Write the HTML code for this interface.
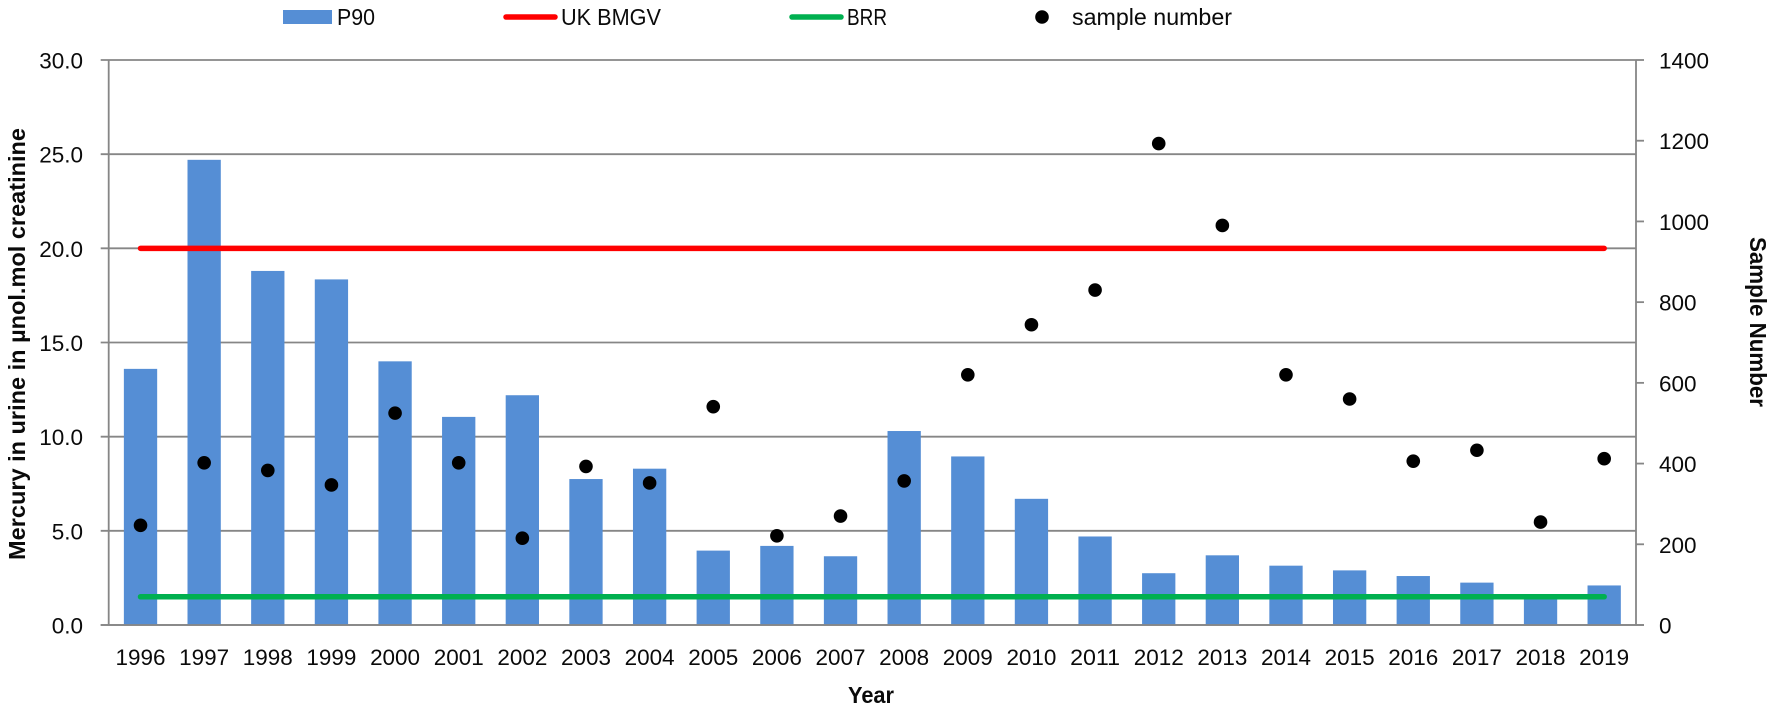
<!DOCTYPE html>
<html lang="en">
<head>
<meta charset="utf-8">
<title>Mercury in urine chart</title>
<style>
html,body{margin:0;padding:0;background:#fff;width:1772px;height:707px;overflow:hidden}
svg{display:block;font-family:"Liberation Sans",sans-serif;fill:#0a0a0a}
</style>
</head>
<body>
<svg id="chart" xmlns="http://www.w3.org/2000/svg" width="1772" height="707" viewBox="0 0 1772 707">
  <g id="grid"></g>
  <g id="bars"></g>
  <g id="axes"></g>
  <g id="lines"></g>
  <g id="dots"></g>
  <g id="ticks"></g>

  <g>
    <g>
      <rect x="283" y="10" width="49" height="14" fill="#558ed5"/>
      <text x="337" y="25" font-size="23" textLength="38" lengthAdjust="spacingAndGlyphs">P90</text>
    </g>
    <g>
      <line x1="506" y1="17" x2="555" y2="17" stroke="#ff0000" stroke-width="5.5" stroke-linecap="round"/>
      <text x="561" y="25" font-size="23" textLength="100" lengthAdjust="spacingAndGlyphs">UK BMGV</text>
    </g>
    <g>
      <line x1="792" y1="17" x2="841" y2="17" stroke="#00b050" stroke-width="5.5" stroke-linecap="round"/>
      <text x="847" y="25" font-size="23" textLength="40" lengthAdjust="spacingAndGlyphs">BRR</text>
    </g>
    <g>
      <circle cx="1042" cy="17" r="6.8" fill="#000"/>
      <text x="1072" y="25" font-size="23" textLength="160" lengthAdjust="spacingAndGlyphs">sample number</text>
    </g>
  </g>

  <text transform="translate(25 344) rotate(-90)" text-anchor="middle" font-size="23" font-weight="bold" textLength="432" lengthAdjust="spacingAndGlyphs">Mercury in urine in µnol.mol creatinine</text>
  <text transform="translate(1750 322) rotate(90)" text-anchor="middle" font-size="23" font-weight="bold" textLength="170" lengthAdjust="spacingAndGlyphs">Sample Number</text>
  <text x="871" y="703" text-anchor="middle" font-size="23" font-weight="bold" textLength="46" lengthAdjust="spacingAndGlyphs">Year</text>
</svg>

<script>
const years = [1996,1997,1998,1999,2000,2001,2002,2003,2004,2005,2006,2007,2008,2009,2010,2011,2012,2013,2014,2015,2016,2017,2018,2019];
const p90Values = [13.6,24.7,18.8,18.35,14.0,11.05,12.2,7.75,8.3,3.95,4.2,3.65,10.3,8.95,6.7,4.7,2.75,3.7,3.15,2.9,2.6,2.25,1.5,2.1];
const sampleNumbers = [247,402,383,347,525,402,215,393,352,541,221,270,357,620,744,830,1193,990,620,560,406,433,255,412];
const ukBmgvValue = 20;
const brrValue = 1.5;
const leftTickValues = [0,5,10,15,20,25,30];
const rightTickValues = [0,200,400,600,800,1000,1200,1400];

const NS = 'http://www.w3.org/2000/svg';
const plotLeft = 108.7, plotRight = 1636, plotTop = 60, plotBottom = 625;
const leftMax = 30, rightMax = 1400;
const axisColor = '#868686';
const band = (plotRight - plotLeft) / years.length;
const barWidth = 33.3;

function xScale(i) { return plotLeft + band * (i + 0.5); }
function yLeft(v) { return plotBottom - (v / leftMax) * (plotBottom - plotTop); }
function yRight(v) { return plotBottom - (v / rightMax) * (plotBottom - plotTop); }
function make(parent, tag, attrs, text) {
  const el = document.createElementNS(NS, tag);
  for (const k in attrs) el.setAttribute(k, attrs[k]);
  if (text !== undefined) el.textContent = text;
  parent.appendChild(el);
  return el;
}

const gGrid = document.getElementById('grid');
const gBars = document.getElementById('bars');
const gAxes = document.getElementById('axes');
const gLines = document.getElementById('lines');
const gDots = document.getElementById('dots');
const gTicks = document.getElementById('ticks');

leftTickValues.forEach(function (v) {
  const y = yLeft(v);
  const grid = make(gGrid, 'line', {x1: plotLeft - 8, x2: plotRight, y1: y, y2: y, stroke: axisColor, 'stroke-width': 1.8});
  
  
  const label = make(gTicks, 'text', {x: 83, y: y + 8.5, 'text-anchor': 'end', 'font-size': 22.5}, v.toFixed(1));
  
  
});

years.forEach(function (year, i) {
  const top = yLeft(p90Values[i]);
  const bar = make(gBars, 'rect', {x: xScale(i) - barWidth / 2, y: top, width: barWidth, height: plotBottom - top, fill: '#558ed5'});
  
  
  const label = make(gTicks, 'text', {x: xScale(i), y: 665, 'text-anchor': 'middle', 'font-size': 22.5, textLength: 50, lengthAdjust: 'spacingAndGlyphs'}, String(year));
  
  
});

const leftAxis = make(gAxes, 'line', {x1: plotLeft, x2: plotLeft, y1: plotTop, y2: plotBottom, stroke: axisColor, 'stroke-width': 1.8});


const rightAxis = make(gAxes, 'line', {x1: plotRight, x2: plotRight, y1: plotTop, y2: plotBottom, stroke: axisColor, 'stroke-width': 1.8});


const baseline = make(gAxes, 'line', {x1: plotLeft - 8, x2: plotRight + 8, y1: plotBottom, y2: plotBottom, stroke: axisColor, 'stroke-width': 1.8});



rightTickValues.forEach(function (v) {
  const y = yRight(v);
  const tick = make(gAxes, 'line', {x1: plotRight, x2: plotRight + 8, y1: y, y2: y, stroke: axisColor, 'stroke-width': 1.8});
  
  
  const label = make(gTicks, 'text', {x: 1659, y: y + 8.5, 'font-size': 22.5}, String(v));
  
  
});

const ukLine = make(gLines, 'line', {x1: xScale(0), x2: xScale(years.length - 1), y1: yLeft(ukBmgvValue), y2: yLeft(ukBmgvValue), stroke: '#ff0000', 'stroke-width': 5.5, 'stroke-linecap': 'round'});


const brrLine = make(gLines, 'line', {x1: xScale(0), x2: xScale(years.length - 1), y1: yLeft(brrValue), y2: yLeft(brrValue), stroke: '#00b050', 'stroke-width': 5.5, 'stroke-linecap': 'round'});



sampleNumbers.forEach(function (n, i) {
  const dot = make(gDots, 'circle', {cx: xScale(i), cy: yRight(n), r: 6.8, fill: '#000'});
  
  
});
</script>
</body>
</html>
